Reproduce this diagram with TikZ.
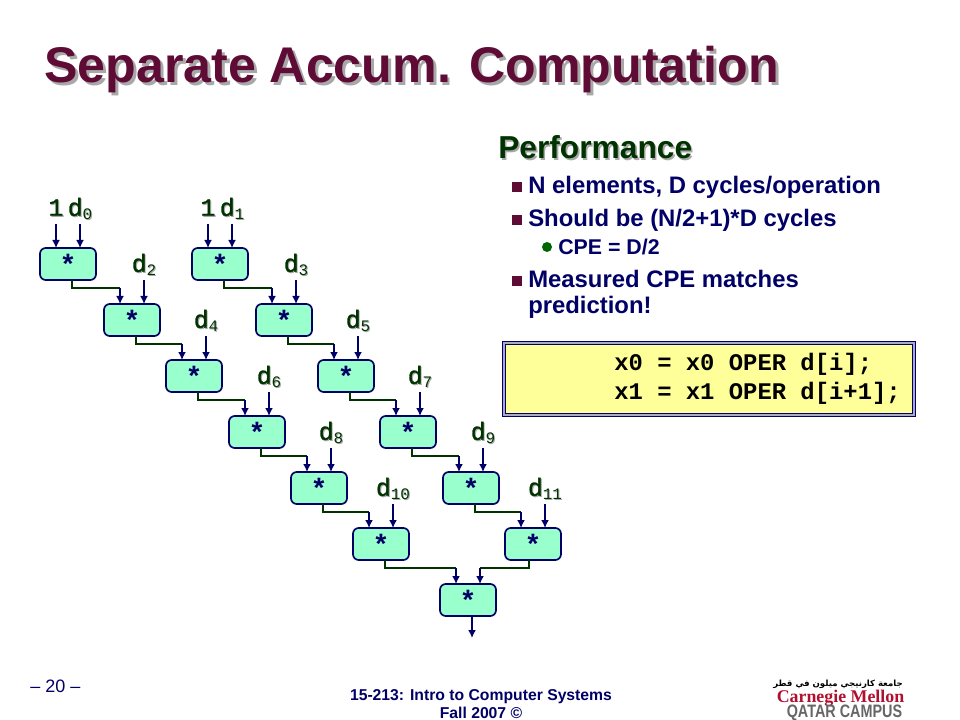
\documentclass[tikz,border=0pt]{standalone}
\usepackage{xcolor}
\usepackage{fontspec}
\setmainfont{Liberation Sans}
\setmonofont{Liberation Mono}
\newfontfamily\logofont{Liberation Serif}
\newfontfamily\labelfont[FakeBold=1.2]{Liberation Mono}
\newfontfamily\arabicfont[Script=Arabic]{DejaVu Sans}
\TeXXeTstate=1
\usepackage{tikz}
\usetikzlibrary{arrows.meta,positioning,calc}
\definecolor{Maroon}{HTML}{5E0B35}
\definecolor{Navy}{HTML}{000066}
\definecolor{Wire}{HTML}{003300}
\definecolor{LeafGreen}{HTML}{006600}
\definecolor{Mint}{HTML}{99FFCC}
\definecolor{SoftYellow}{HTML}{FFFF99}
\definecolor{Shade}{HTML}{A8A8A8}
\definecolor{LogoRed}{HTML}{B01030}
\definecolor{LogoGray}{HTML}{666666}
\newcommand{\shadowed}[2]{\rlap{\kern#1\raisebox{-#1}{\textcolor{Shade}{#2}}}#2}
\newcommand{\dsub}[1]{d\raisebox{-3pt}{\ttfamily\mdseries\fontsize{12}{12}\selectfont #1}}
\newcommand{\carry}[2]{%
  \draw[wire] ($(#1.south)+(3pt,0)$) |- ($(#2.north)+(-9pt,12pt)$);
  \draw[arrow] ($(#2.north)+(-9pt,12pt)$) -- ($(#2.north)+(-9pt,0)$);}
\begin{document}
\begin{tikzpicture}[x=0.75pt,y=-0.75pt,
    opbox/.style={rectangle,rounded corners=1.5mm,draw=Navy,line width=1.25pt,fill=Mint,minimum width=42pt,minimum height=24pt,inner sep=0pt,outer sep=0pt,text=Navy,font=\ttfamily\bfseries\fontsize{21}{21}\selectfont},
    arrow/.style={-{Latex[length=6pt,width=6pt]},line width=1.25pt,draw=Navy},
    wire/.style={line width=1.25pt,draw=Wire},
    inlabel/.style={anchor=south,inner sep=0pt,text height=11pt,text depth=6pt,text=Wire,font=\labelfont\fontsize{18.5}{18.5}\selectfont},
    item/.style={anchor=base west,inner sep=0pt,align=left,text=Navy,font=\bfseries\fontsize{17.9}{19.5}\selectfont},
    square/.style={rectangle,fill=Maroon,minimum size=7.5pt,inner sep=0pt},
    dot/.style={circle,fill=LeafGreen,minimum size=7.5pt,inner sep=0pt}
]
\useasboundingbox (0,0) rectangle (960,720);
% title and right column
\node[anchor=base west,inner sep=0pt,text=Maroon,font=\bfseries\fontsize{37.6}{38}\selectfont] (title) at (44,83) {\shadowed{2.2pt}{Separate Accum. Computation}};
\node[anchor=base west,inner sep=0pt,text=Wire,font=\bfseries\fontsize{23.8}{24}\selectfont] (perf) at (498,159) {\shadowed{1.2pt}{Performance}};
\node[item] (i1) at (528,194) {N elements, D cycles/operation};
\node[item] (i2) at (528,227) {Should be (N/2+1)*D cycles};
\node[item,font=\bfseries\fontsize{16}{16}\selectfont] (i3) at (558,255) {CPE = D/2};
\node[item] (i4) at (528,313) {Measured CPE matches\\prediction!};
\node[square] (s1) at (517,187) {};
\node[square] (s2) at (517,220) {};
\node[dot] (s3) at (547,247) {};
\node[square] (s4) at (517,281) {};
\node[rectangle,draw=Navy,double=Shade!40!Navy!45,double distance=1.4pt,line width=.8pt,fill=SoftYellow,minimum height=54pt,text width=306pt,inner xsep=1pt,inner ysep=0pt,align=left,font=\ttfamily\bfseries\fontsize{17.9}{21.75}\selectfont] (code) at (709,379) {\spaceskip=10.74pt\relax\hspace*{82pt}x0 = x0 OPER d[i];\\\hspace*{82pt}x1 = x1 OPER d[i+1];};
% left chain
\node[opbox] (a0) at (68,264) {*};
\node[opbox,below right=18pt and 6pt of a0] (a1) {*};
\node[opbox,below right=18pt and 4.5pt of a1] (a2) {*};
\node[opbox,below right=18pt and 5.25pt of a2] (a3) {*};
\node[opbox,below right=18pt and 4.5pt of a3] (a4) {*};
\node[opbox,below right=18pt and 4.5pt of a4] (a5) {*};
% right chain
\node[opbox] (c0) at (220,264) {*};
\node[opbox,below right=18pt and 6pt of c0] (c1) {*};
\node[opbox,below right=18pt and 4.5pt of c1] (c2) {*};
\node[opbox,below right=18pt and 4.5pt of c2] (c3) {*};
\node[opbox,below right=18pt and 5.25pt of c3] (c4) {*};
\node[opbox,below right=18pt and 4.5pt of c4] (c5) {*};
\node[opbox,below right=18pt and 23.25pt of a5] (res) {*};
\coordinate[below=16.5pt of res.south,xshift=3pt] (out);
% input labels
\node[inlabel] (one0) at ($(a0.north)+(-9pt,18pt)$) {\shadowed{.8pt}{1}};
\node[inlabel] (d0) at ($(a0.north)+(9pt,18pt)$) {\shadowed{.8pt}{\dsub{0}}};
\node[inlabel] (one1) at ($(c0.north)+(-9pt,18pt)$) {\shadowed{.8pt}{1}};
\node[inlabel] (d1) at ($(c0.north)+(9pt,18pt)$) {\shadowed{.8pt}{\dsub{1}}};
\node[inlabel] (d2) at ($(a1.north)+(9pt,18pt)$) {\shadowed{.8pt}{\dsub{2}}};
\node[inlabel] (d3) at ($(c1.north)+(9pt,18pt)$) {\shadowed{.8pt}{\dsub{3}}};
\node[inlabel] (d4) at ($(a2.north)+(9pt,18pt)$) {\shadowed{.8pt}{\dsub{4}}};
\node[inlabel] (d5) at ($(c2.north)+(9pt,18pt)$) {\shadowed{.8pt}{\dsub{5}}};
\node[inlabel] (d6) at ($(a3.north)+(9pt,18pt)$) {\shadowed{.8pt}{\dsub{6}}};
\node[inlabel] (d7) at ($(c3.north)+(9pt,18pt)$) {\shadowed{.8pt}{\dsub{7}}};
\node[inlabel] (d8) at ($(a4.north)+(9pt,18pt)$) {\shadowed{.8pt}{\dsub{8}}};
\node[inlabel] (d9) at ($(c4.north)+(9pt,18pt)$) {\shadowed{.8pt}{\dsub{9}}};
\node[inlabel] (d10) at ($(a5.north)+(9pt,18pt)$) {\shadowed{.8pt}{\dsub{10}}};
\node[inlabel] (d11) at ($(c5.north)+(9pt,18pt)$) {\shadowed{.8pt}{\dsub{11}}};
% input arrows
\draw[arrow] (one0.south) -- ($(a0.north)+(-9pt,0)$);
\draw[arrow] (d0.south) -- ($(a0.north)+(9pt,0)$);
\draw[arrow] (one1.south) -- ($(c0.north)+(-9pt,0)$);
\draw[arrow] (d1.south) -- ($(c0.north)+(9pt,0)$);
\draw[arrow] (d2.south) -- ($(a1.north)+(9pt,0)$);
\draw[arrow] (d3.south) -- ($(c1.north)+(9pt,0)$);
\draw[arrow] (d4.south) -- ($(a2.north)+(9pt,0)$);
\draw[arrow] (d5.south) -- ($(c2.north)+(9pt,0)$);
\draw[arrow] (d6.south) -- ($(a3.north)+(9pt,0)$);
\draw[arrow] (d7.south) -- ($(c3.north)+(9pt,0)$);
\draw[arrow] (d8.south) -- ($(a4.north)+(9pt,0)$);
\draw[arrow] (d9.south) -- ($(c4.north)+(9pt,0)$);
\draw[arrow] (d10.south) -- ($(a5.north)+(9pt,0)$);
\draw[arrow] (d11.south) -- ($(c5.north)+(9pt,0)$);
% chain links
\carry{a0}{a1}
\carry{a1}{a2}
\carry{a2}{a3}
\carry{a3}{a4}
\carry{a4}{a5}
\carry{c0}{c1}
\carry{c1}{c2}
\carry{c2}{c3}
\carry{c3}{c4}
\carry{c4}{c5}
\carry{a5}{res}
\draw[wire] ($(c5.south)+(-3pt,0)$) |- ($(res.north)+(9pt,12pt)$);
\draw[arrow] ($(res.north)+(9pt,12pt)$) -- ($(res.north)+(9pt,0)$);
\draw[arrow] ($(res.south)+(3pt,0)$) -- (out);
% footer
\node[anchor=base west,inner sep=0pt,text=Navy,font=\fontsize{13.5}{14}\selectfont] (page) at (30,692) {-- 20 --};
\node[anchor=north,inner sep=0pt,align=center,text=Navy,font=\bfseries\fontsize{11.8}{13.5}\selectfont] (course) at (481,689) {15-213: Intro to Computer Systems\\Fall 2007 ©};
% logo
\node[anchor=base,inner sep=0pt,font=\arabicfont\bfseries\fontsize{6.4}{7}\selectfont] (ar) at (838,686) {\beginR جامعة كارنيجي ميلون في قطر\endR};
\node[anchor=base,inner sep=0pt,text=LogoRed,font=\logofont\bfseries\fontsize{13.4}{14}\selectfont] (cmu) at (840.5,702) {Carnegie Mellon};
\node[anchor=base,inner sep=0pt,text=LogoGray,xscale=.8,font=\bfseries\fontsize{13.5}{14}\selectfont] (qatar) at (844.5,717.5) {QATAR CAMPUS};
\end{tikzpicture}
\end{document}
